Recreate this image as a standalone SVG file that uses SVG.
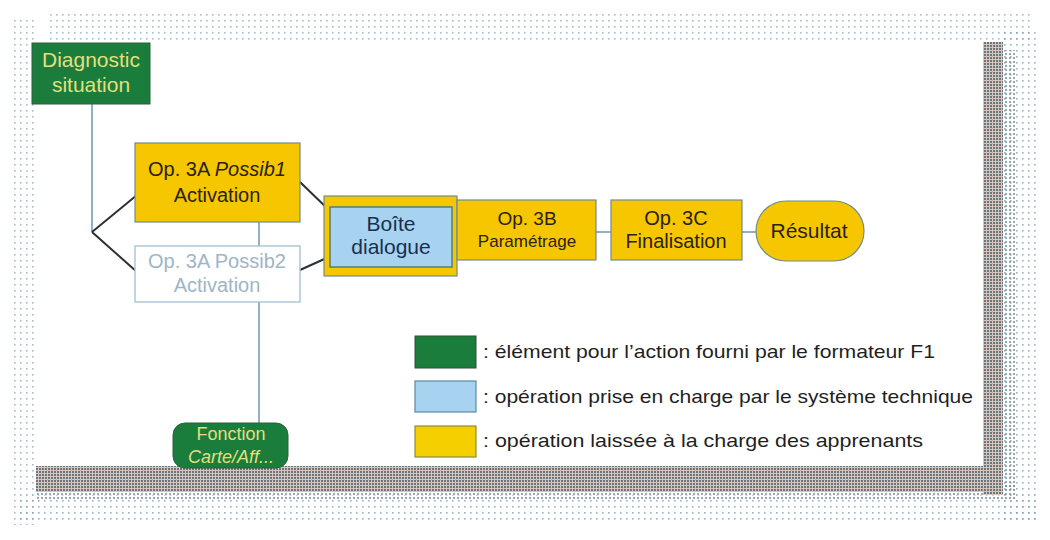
<svg xmlns="http://www.w3.org/2000/svg" width="1050" height="540" viewBox="0 0 1050 540">
<defs>
<pattern id="lightDots" width="6" height="6" patternUnits="userSpaceOnUse">
<rect x="2" y="2" width="1.6" height="1.6" fill="#7f9fb3"/>
</pattern>
<pattern id="darkDots" width="3" height="3" patternUnits="userSpaceOnUse">
<rect width="3" height="3" fill="#d7c6bd"/>
<rect x="0" y="0" width="2" height="2" fill="#6b767c"/>
</pattern>
<pattern id="midDots" width="4" height="4" patternUnits="userSpaceOnUse">
<rect x="1" y="1" width="2" height="2" fill="#7d939f"/>
</pattern>
<style>
.t{font-family:"Liberation Sans",Arial,sans-serif;text-anchor:middle}
.yel{fill:#f6c700;stroke:#6f8d8c;stroke-width:1.2}
.grn{fill:#1a7d3b;stroke:#2f5f3a;stroke-width:1}
.gtxt{fill:#e4df7e}
.dtxt{fill:#2a2218}
.lg{font-family:"Liberation Sans",Arial,sans-serif;font-size:19px;fill:#1f1f1f}
.cl{fill:none;stroke:#8fb0c6;stroke-width:2}
.cd{fill:none;stroke:#2a3236;stroke-width:2}
</style>
</defs>
<g id="background">
<rect width="1050" height="540" fill="#ffffff"/>
<rect x="50" y="12" width="980" height="32" fill="url(#lightDots)" opacity="0.7"/>
<rect x="14" y="20" width="22" height="505" fill="url(#lightDots)" opacity="0.7"/>
<rect x="1000" y="30" width="40" height="490" fill="url(#lightDots)" opacity="0.8"/>
<rect x="20" y="495" width="1020" height="28" fill="url(#lightDots)" opacity="0.8"/>
<rect x="36" y="485" width="980" height="16" fill="url(#midDots)" opacity="0.8"/>
<rect x="1000" y="50" width="16" height="440" fill="url(#midDots)" opacity="0.8"/>
<rect x="983" y="42" width="20" height="453" fill="url(#darkDots)"/>
<rect x="36" y="466" width="967" height="26" fill="url(#darkDots)"/>
<rect x="34" y="42" width="949" height="424" fill="#ffffff"/>
</g>
<g id="connectors">
<path class="cl" d="M92,104 V232"/>
<path class="cd" d="M92,232 L137,195 M92,232 L137,272"/>
<path class="cl" d="M259,222 V246 M259,302 V424"/>
<path class="cd" d="M300,182 L331,212 M300,270 L331,256"/>
<path class="cl" d="M596,232 H611 M742,232 H756"/>
</g>
<g id="n-diagnostic">
<rect class="grn" x="32" y="43" width="118" height="61"/>
<text class="t gtxt" x="91" y="67" font-size="21">Diagnostic</text>
<text class="t gtxt" x="91" y="92" font-size="21">situation</text>
</g>
<g id="n-op3a1">
<rect class="yel" x="135" y="143" width="165" height="79"/>
<text class="t dtxt" x="217" y="176" font-size="20">Op. 3A <tspan font-style="italic">Possib1</tspan></text>
<text class="t dtxt" x="217" y="202" font-size="20">Activation</text>
</g>
<g id="n-op3a2">
<rect x="135" y="246" width="165" height="56" fill="#ffffff" stroke="#a9c2d2" stroke-width="1.4"/>
<text class="t" x="217" y="268" font-size="20" fill="#9eb5c6">Op. 3A Possib2</text>
<text class="t" x="217" y="292" font-size="20" fill="#9eb5c6">Activation</text>
</g>
<g id="n-boite">
<rect class="yel" x="324" y="196" width="133" height="80"/>
<rect x="330" y="207" width="122" height="60" fill="#a8d3f0" stroke="#4f7f7a" stroke-width="1.5"/>
<text class="t" x="391" y="231" font-size="21" fill="#17304f">Boîte</text>
<text class="t" x="391" y="254" font-size="21" fill="#17304f">dialogue</text>
</g>
<g id="n-op3b">
<rect class="yel" x="457" y="200" width="139" height="60"/>
<text class="t dtxt" x="527" y="225" font-size="19">Op. 3B</text>
<text class="t dtxt" x="527" y="247" font-size="17">Paramétrage</text>
</g>
<g id="n-op3c">
<rect class="yel" x="611" y="200" width="131" height="60"/>
<text class="t dtxt" x="676" y="225" font-size="20">Op. 3C</text>
<text class="t dtxt" x="676" y="248" font-size="20">Finalisation</text>
</g>
<g id="n-resultat">
<rect class="yel" x="756" y="201" width="108" height="60" rx="30" ry="30"/>
<text class="t dtxt" x="809" y="238" font-size="21">Résultat</text>
</g>
<g id="n-fonction">
<rect class="grn" x="173" y="423" width="115" height="45" rx="12" ry="12"/>
<text class="t gtxt" x="231" y="440" font-size="18">Fonction</text>
<text class="t gtxt" x="231" y="463" font-size="18" font-style="italic">Carte/Aff...</text>
</g>
<g id="legend">
<rect x="415" y="336" width="61" height="32" fill="#1a7d3b" stroke="#2f4f3a" stroke-width="1"/>
<rect x="415" y="381" width="61" height="31" fill="#a8d3f0" stroke="#5a8aa0" stroke-width="1.2"/>
<rect x="415" y="426" width="61" height="31" fill="#f6cf00" stroke="#8a8a40" stroke-width="1.2"/>
<text class="lg" x="483" y="358" textLength="452" lengthAdjust="spacingAndGlyphs">: élément pour l’action fourni par le formateur F1</text>
<text class="lg" x="483" y="403" textLength="490" lengthAdjust="spacingAndGlyphs">: opération prise en charge par le système technique</text>
<text class="lg" x="483" y="447" textLength="440" lengthAdjust="spacingAndGlyphs">: opération laissée à la charge des apprenants</text>
</g>
</svg>
